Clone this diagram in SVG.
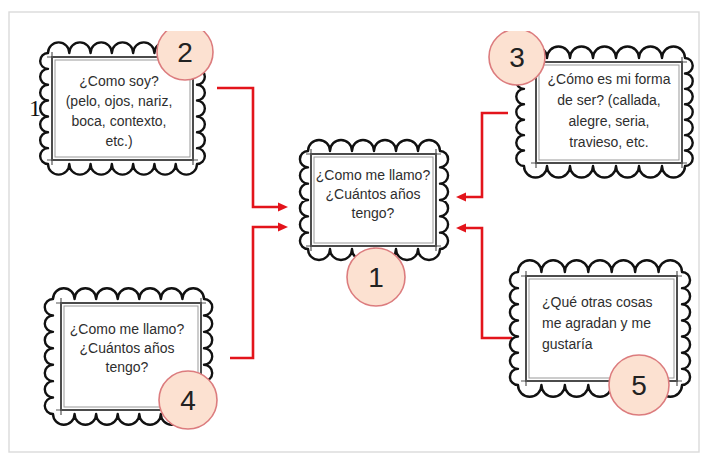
<svg xmlns="http://www.w3.org/2000/svg" width="702" height="455" viewBox="0 0 702 455">
<style>
.scallop{fill:#fff;stroke:#111;stroke-width:2.4;stroke-linejoin:round}
.frame{fill:none;stroke:#3a3a3a;stroke-width:1.9}
.frame2{fill:none;stroke:#999;stroke-width:1}
.over{fill:none;stroke:#555;stroke-width:1.2}
.txt{font-family:"Liberation Sans",Arial,sans-serif;font-size:14px;fill:#2e2e2e;text-anchor:middle}
.num{fill:#fce1d1;stroke:#dc7c7e;stroke-width:1.6}
.numtxt{font-family:"Liberation Sans",Arial,sans-serif;font-size:28px;fill:#222;text-anchor:middle}
.conn{fill:none;stroke:#e3141b;stroke-width:2.6}
</style>
<defs>
<marker id="arr" viewBox="0 -5 10 10" refX="2" refY="0" markerWidth="10" markerHeight="10" markerUnits="userSpaceOnUse" orient="auto">
<path d="M0,-4.5 L10,0 L0,4.5 z" fill="#e3141b"/>
</marker>
<clipPath id="topclip"><rect x="0" y="31" width="702" height="424"/></clipPath>
</defs>
<rect x="0" y="0" width="702" height="455" fill="#fff"/>
<rect x="9" y="12" width="690" height="440" fill="none" stroke="#dadada" stroke-width="1.4"/>

<g id="connectors">
<path class="conn" d="M217,88 H253 V207 H280" marker-end="url(#arr)"/>
<path class="conn" d="M230,358 H253 V227 H280" marker-end="url(#arr)"/>
<path class="conn" d="M508,113 H482 V197 H464" marker-end="url(#arr)"/>
<path class="conn" d="M512,338 H482 V228 H464" marker-end="url(#arr)"/>
</g>

<g id="node2">
<path class="scallop" d="M48,53 a10.643,10.643 0 0 1 21.286,0 a10.643,10.643 0 0 1 21.286,0 a10.643,10.643 0 0 1 21.286,0 a10.643,10.643 0 0 1 21.286,0 a10.643,10.643 0 0 1 21.286,0 a10.643,10.643 0 0 1 21.286,0 a10.643,10.643 0 0 1 21.286,0 a7.929,7.929 0 0 1 0,15.857 a7.929,7.929 0 0 1 0,15.857 a7.929,7.929 0 0 1 0,15.857 a7.929,7.929 0 0 1 0,15.857 a7.929,7.929 0 0 1 0,15.857 a7.929,7.929 0 0 1 0,15.857 a7.929,7.929 0 0 1 0,15.857 a10.643,10.643 0 0 1 -21.286,0 a10.643,10.643 0 0 1 -21.286,0 a10.643,10.643 0 0 1 -21.286,0 a10.643,10.643 0 0 1 -21.286,0 a10.643,10.643 0 0 1 -21.286,0 a10.643,10.643 0 0 1 -21.286,0 a10.643,10.643 0 0 1 -21.286,0 a7.929,7.929 0 0 1 0,-15.857 a7.929,7.929 0 0 1 0,-15.857 a7.929,7.929 0 0 1 0,-15.857 a7.929,7.929 0 0 1 0,-15.857 a7.929,7.929 0 0 1 0,-15.857 a7.929,7.929 0 0 1 0,-15.857 a7.929,7.929 0 0 1 0,-15.857 z"/>
<rect class="frame" x="52" y="57" width="141" height="103"/>
<rect class="frame2" x="55" y="60" width="135" height="97"/>
<path class="over" d="M47,57 H198 M47,160 H198 M52,52 V165 M193,52 V165"/>
<text class="txt" x="119" y="86">¿Como soy?</text>
<text class="txt" x="119" y="106">(pelo, ojos, nariz,</text>
<text class="txt" x="119" y="126">boca, contexto,</text>
<text class="txt" x="119" y="146">etc.)</text>
<text x="35" y="116" font-family="Liberation Serif,serif" font-size="24" fill="#111" text-anchor="middle">1</text>
<g clip-path="url(#topclip)">
<circle class="num" cx="185" cy="52" r="28"/>
</g>
<text class="numtxt" x="185" y="62">2</text>
</g>

<g id="node3">
<path class="scallop" d="M524,58 a11.5,11.5 0 0 1 23,0 a11.5,11.5 0 0 1 23,0 a11.5,11.5 0 0 1 23,0 a11.5,11.5 0 0 1 23,0 a11.5,11.5 0 0 1 23,0 a11.5,11.5 0 0 1 23,0 a11.5,11.5 0 0 1 23,0 a7.714,7.714 0 0 1 0,15.429 a7.714,7.714 0 0 1 0,15.429 a7.714,7.714 0 0 1 0,15.429 a7.714,7.714 0 0 1 0,15.429 a7.714,7.714 0 0 1 0,15.429 a7.714,7.714 0 0 1 0,15.429 a7.714,7.714 0 0 1 0,15.429 a11.5,11.5 0 0 1 -23,0 a11.5,11.5 0 0 1 -23,0 a11.5,11.5 0 0 1 -23,0 a11.5,11.5 0 0 1 -23,0 a11.5,11.5 0 0 1 -23,0 a11.5,11.5 0 0 1 -23,0 a11.5,11.5 0 0 1 -23,0 a7.714,7.714 0 0 1 0,-15.429 a7.714,7.714 0 0 1 0,-15.429 a7.714,7.714 0 0 1 0,-15.429 a7.714,7.714 0 0 1 0,-15.429 a7.714,7.714 0 0 1 0,-15.429 a7.714,7.714 0 0 1 0,-15.429 a7.714,7.714 0 0 1 0,-15.429 z"/>
<rect class="frame" x="536" y="62" width="146" height="101"/>
<rect class="frame2" x="539" y="65" width="140" height="95"/>
<path class="over" d="M531,62 H687 M531,163 H687 M536,57 V168 M682,57 V168"/>
<text class="txt" x="609" y="84">¿Cómo es mi forma</text>
<text class="txt" x="609" y="105">de ser? (callada,</text>
<text class="txt" x="609" y="126">alegre, seria,</text>
<text class="txt" x="609" y="147">travieso, etc.</text>
<g clip-path="url(#topclip)">
<circle class="num" cx="517" cy="57" r="28"/>
</g>
<text class="numtxt" x="517" y="67">3</text>
</g>

<g id="node1">
<path class="scallop" d="M308,151 a11,11 0 0 1 22,0 a11,11 0 0 1 22,0 a11,11 0 0 1 22,0 a11,11 0 0 1 22,0 a11,11 0 0 1 22,0 a11,11 0 0 1 22,0 a8.167,8.167 0 0 1 0,16.333 a8.167,8.167 0 0 1 0,16.333 a8.167,8.167 0 0 1 0,16.333 a8.167,8.167 0 0 1 0,16.333 a8.167,8.167 0 0 1 0,16.333 a8.167,8.167 0 0 1 0,16.333 a11,11 0 0 1 -22,0 a11,11 0 0 1 -22,0 a11,11 0 0 1 -22,0 a11,11 0 0 1 -22,0 a11,11 0 0 1 -22,0 a11,11 0 0 1 -22,0 a8.167,8.167 0 0 1 0,-16.333 a8.167,8.167 0 0 1 0,-16.333 a8.167,8.167 0 0 1 0,-16.333 a8.167,8.167 0 0 1 0,-16.333 a8.167,8.167 0 0 1 0,-16.333 a8.167,8.167 0 0 1 0,-16.333 z"/>
<rect class="frame" x="311" y="154" width="125" height="92"/>
<rect class="frame2" x="314" y="157" width="119" height="86"/>
<path class="over" d="M306,154 H441 M306,246 H441 M311,149 V251 M436,149 V251"/>
<text class="txt" x="373" y="180">¿Como me llamo?</text>
<text class="txt" x="373" y="199">¿Cuántos años</text>
<text class="txt" x="373" y="218">tengo?</text>
<circle class="num" cx="376" cy="277" r="29"/>
<text class="numtxt" x="376" y="287">1</text>
</g>

<g id="node4">
<path class="scallop" d="M53,299 a10.786,10.786 0 0 1 21.571,0 a10.786,10.786 0 0 1 21.571,0 a10.786,10.786 0 0 1 21.571,0 a10.786,10.786 0 0 1 21.571,0 a10.786,10.786 0 0 1 21.571,0 a10.786,10.786 0 0 1 21.571,0 a10.786,10.786 0 0 1 21.571,0 a8.214,8.214 0 0 1 0,16.429 a8.214,8.214 0 0 1 0,16.429 a8.214,8.214 0 0 1 0,16.429 a8.214,8.214 0 0 1 0,16.429 a8.214,8.214 0 0 1 0,16.429 a8.214,8.214 0 0 1 0,16.429 a8.214,8.214 0 0 1 0,16.429 a10.786,10.786 0 0 1 -21.571,0 a10.786,10.786 0 0 1 -21.571,0 a10.786,10.786 0 0 1 -21.571,0 a10.786,10.786 0 0 1 -21.571,0 a10.786,10.786 0 0 1 -21.571,0 a10.786,10.786 0 0 1 -21.571,0 a10.786,10.786 0 0 1 -21.571,0 a8.214,8.214 0 0 1 0,-16.429 a8.214,8.214 0 0 1 0,-16.429 a8.214,8.214 0 0 1 0,-16.429 a8.214,8.214 0 0 1 0,-16.429 a8.214,8.214 0 0 1 0,-16.429 a8.214,8.214 0 0 1 0,-16.429 a8.214,8.214 0 0 1 0,-16.429 z"/>
<rect class="frame" x="61" y="303" width="140" height="107"/>
<rect class="frame2" x="64" y="306" width="134" height="101"/>
<path class="over" d="M56,303 H206 M56,410 H206 M61,298 V415 M201,298 V415"/>
<text class="txt" x="127" y="334">¿Como me llamo?</text>
<text class="txt" x="127" y="353">¿Cuántos años</text>
<text class="txt" x="127" y="372">tengo?</text>
<circle class="num" cx="188" cy="400" r="29"/>
<text class="numtxt" x="188" y="410">4</text>
</g>

<g id="node5">
<path class="scallop" d="M518,272 a11.714,11.714 0 0 1 23.429,0 a11.714,11.714 0 0 1 23.429,0 a11.714,11.714 0 0 1 23.429,0 a11.714,11.714 0 0 1 23.429,0 a11.714,11.714 0 0 1 23.429,0 a11.714,11.714 0 0 1 23.429,0 a11.714,11.714 0 0 1 23.429,0 a8.071,8.071 0 0 1 0,16.143 a8.071,8.071 0 0 1 0,16.143 a8.071,8.071 0 0 1 0,16.143 a8.071,8.071 0 0 1 0,16.143 a8.071,8.071 0 0 1 0,16.143 a8.071,8.071 0 0 1 0,16.143 a8.071,8.071 0 0 1 0,16.143 a11.714,11.714 0 0 1 -23.429,0 a11.714,11.714 0 0 1 -23.429,0 a11.714,11.714 0 0 1 -23.429,0 a11.714,11.714 0 0 1 -23.429,0 a11.714,11.714 0 0 1 -23.429,0 a11.714,11.714 0 0 1 -23.429,0 a11.714,11.714 0 0 1 -23.429,0 a8.071,8.071 0 0 1 0,-16.143 a8.071,8.071 0 0 1 0,-16.143 a8.071,8.071 0 0 1 0,-16.143 a8.071,8.071 0 0 1 0,-16.143 a8.071,8.071 0 0 1 0,-16.143 a8.071,8.071 0 0 1 0,-16.143 a8.071,8.071 0 0 1 0,-16.143 z"/>
<rect class="frame" x="526" y="276" width="151" height="105"/>
<rect class="frame2" x="529" y="279" width="145" height="99"/>
<path class="over" d="M521,276 H682 M521,381 H682 M526,271 V386 M677,271 V386"/>
<text class="txt" x="542" y="307" style="text-anchor:start">¿Qué otras cosas</text>
<text class="txt" x="542" y="328" style="text-anchor:start">me agradan y me</text>
<text class="txt" x="542" y="349" style="text-anchor:start">gustaría</text>
<circle class="num" cx="639" cy="385" r="30"/>
<text class="numtxt" x="639" y="395">5</text>
</g>
</svg>
